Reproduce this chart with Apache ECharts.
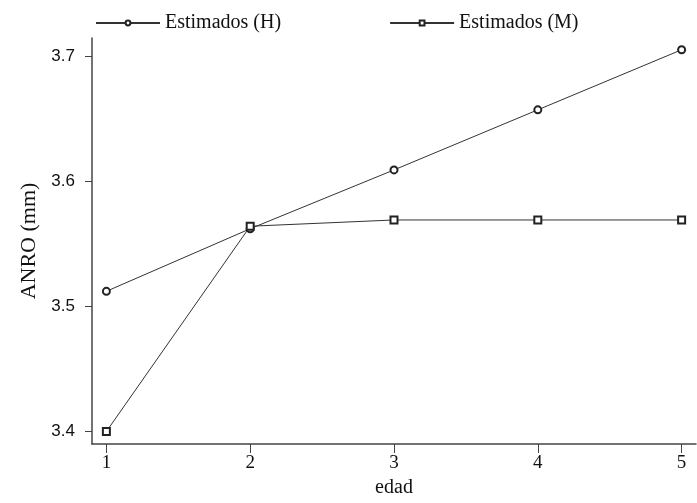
<!DOCTYPE html>
<html lang="es">
<head>
    <meta charset="utf-8">
    <title>ANRO por edad</title>
    <script src="https://cdn.jsdelivr.net/npm/echarts@6/dist/echarts.min.js"></script>
    <style>
        html, body { margin: 0; padding: 0; background: #fff; }
        #chart { width: 697px; height: 503px; }
    </style>
</head>
<body>
<div id="chart"></div>
<script>
    // datos
    const edad = [1, 2, 3, 4, 5];
    const estimadosH = [3.512, 3.562, 3.609, 3.657, 3.705];
    const estimadosM = [3.400, 3.564, 3.569, 3.569, 3.569];
    const xTicks = [1, 2, 3, 4, 5];
    const yTicks = [3.4, 3.5, 3.6, 3.7];

    const chart = echarts.init(document.getElementById('chart'));

    function pares(xs, ys) {
        return xs.map((x, i) => [x, ys[i]]);
    }

    const serie = (name, symbol, data) => ({
        name: name,
        type: 'line',
        data: data,
        symbol: symbol,
        symbolSize: 7,
        showAllSymbol: true,
        lineStyle: { color: '#333', width: 1 },
        itemStyle: { color: '#222', borderWidth: 1 },
        emphasis: { disabled: true },
        animation: false
    });

    const option = {
        backgroundColor: '#fff',
        grid: { left: 92, right: 1, top: 38, bottom: 59, containLabel: false },
        legend: {
            left: 90,
            top: 8,
            itemWidth: 64,
            itemHeight: 6,
            itemGap: 108,
            textStyle: { fontFamily: 'Liberation Serif', fontSize: 20, color: '#111' },
            data: ['Estimados (H)', 'Estimados (M)']
        },
        xAxis: {
            type: 'value',
            min: 0.9,
            max: 5.1,
            name: 'edad',
            nameLocation: 'middle',
            nameGap: 34,
            nameTextStyle: { fontFamily: 'Liberation Serif', fontSize: 20, color: '#111' },
            axisLine: { lineStyle: { color: '#444', width: 1.5 } },
            axisTick: { length: 9, lineStyle: { color: '#444' }, customValues: xTicks },
            axisLabel: {
                customValues: xTicks,
                margin: 10,
                fontFamily: 'Liberation Serif',
                fontSize: 19,
                color: '#111'
            },
            splitLine: { show: false }
        },
        yAxis: {
            type: 'value',
            min: 3.39,
            max: 3.7144,
            name: 'ANRO (mm)',
            nameLocation: 'middle',
            nameGap: 52,
            nameTextStyle: { fontFamily: 'Liberation Serif', fontSize: 22, color: '#111' },
            axisLine: { show: true, lineStyle: { color: '#444', width: 1.5 } },
            axisTick: { show: true, length: 7, lineStyle: { color: '#444' }, customValues: yTicks },
            axisLabel: {
                customValues: yTicks,
                margin: 17,
                fontFamily: 'Liberation Sans',
                fontSize: 17,
                color: '#111',
                formatter: v => v.toFixed(1)
            },
            splitLine: { show: false }
        },
        series: [
            serie('Estimados (H)', 'emptyCircle', pares(edad, estimadosH)),
            serie('Estimados (M)', 'emptyRect', pares(edad, estimadosM))
        ]
    };

    chart.setOption(option);
</script>
</body>
</html>
